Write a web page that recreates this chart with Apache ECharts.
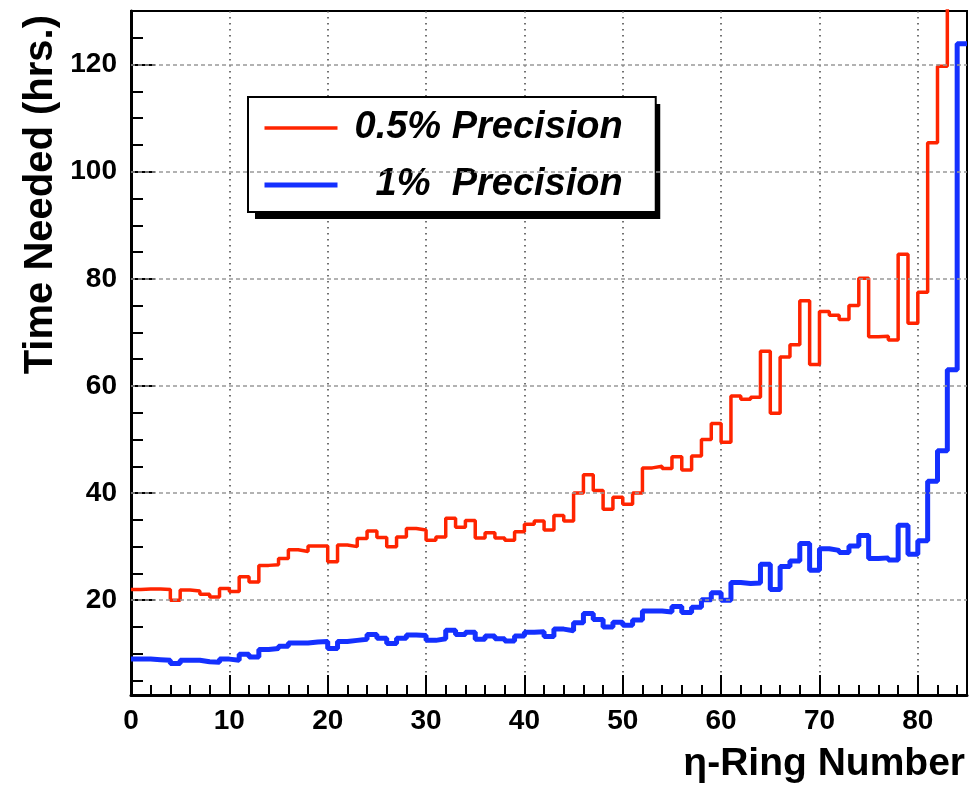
<!DOCTYPE html>
<html><head><meta charset="utf-8">
<script src="https://cdn.jsdelivr.net/npm/echarts@6/dist/echarts.min.js"></script>
<style>html,body{margin:0;padding:0;background:#fff}#c{width:969px;height:792px}</style>
</head><body><div id="c"></div>
<script>
// ---- data (one value per unit-wide eta-ring bin, bins 0..84) ----
const redName = '0.5% Precision';
const blueName = '  1%  Precision';
const redValues = [
  22.0, 22.1, 22.1, 22.0, 20.0, 21.9, 21.7, 21.1, 20.6, 22.2,
  21.6, 24.4, 23.4, 26.5, 26.6, 27.8, 29.4, 29.1, 30.1, 30.1,
  27.2, 30.3, 30.0, 31.5, 32.9, 31.7, 30.0, 31.8, 33.4, 33.1,
  31.2, 31.8, 35.3, 33.6, 34.9, 31.6, 32.6, 31.6, 31.2, 32.8,
  34.2, 34.8, 33.1, 35.8, 34.8, 40.0, 43.4, 40.5, 37.0, 39.2,
  37.9, 40.0, 44.7, 45.0, 44.6, 46.8, 44.3, 46.9, 50.0, 53.0,
  49.5, 58.1, 57.5, 57.9, 66.5, 54.9, 65.4, 67.7, 75.9, 64.0,
  73.9, 73.2, 72.4, 75.0, 80.1, 69.2, 69.3, 68.6, 84.6, 71.7,
  77.5, 105.4, 119.7, 150.0, 180.0
];
const blueValues = [
  9.0, 9.0, 8.9, 8.8, 8.2, 8.8, 8.8, 8.5, 8.4, 9.0,
  8.8, 9.9, 9.4, 10.8, 11.0, 11.4, 12.0, 12.0, 12.2, 12.3,
  11.0, 12.3, 12.5, 12.7, 13.6, 12.9, 11.9, 12.9, 13.5, 13.4,
  12.5, 12.8, 14.4, 13.6, 14.0, 12.7, 13.3, 12.8, 12.4, 13.3,
  14.0, 14.1, 13.2, 14.6, 14.3, 15.8, 17.5, 16.4, 15.0, 15.9,
  15.3, 16.3, 18.0, 18.0, 17.8, 18.8, 17.7, 18.7, 20.1, 21.4,
  20.0, 23.3, 23.1, 23.2, 26.7, 22.0, 26.3, 27.3, 30.6, 25.6,
  29.6, 29.3, 28.9, 30.1, 32.1, 27.8, 27.9, 27.5, 34.0, 28.6,
  31.1, 42.2, 47.9, 63.0, 123.9
];
const xMajorTicks = [0, 10, 20, 30, 40, 50, 60, 70, 80];
const xMinorTicks = [2, 4, 6, 8, 12, 14, 16, 18, 22, 24, 26, 28, 32, 34, 36, 38, 42, 44, 46, 48,
  52, 54, 56, 58, 62, 64, 66, 68, 72, 74, 76, 78, 82, 84];
const yMajorTicks = [20, 40, 60, 80, 100, 120];
const yMinorTicks = [5, 10, 15, 25, 30, 35, 45, 50, 55, 65, 70, 75, 85, 90, 95, 105, 110, 115, 125];
const xRange = [0, 85];
const yRange = [2.3, 130];
const xTitle = 'η-Ring Number';
const yTitle = 'Time Needed (hrs.)';

// ---- build histogram step points (bin i spans [i, i+1]) ----
function histPoints(vals) {
  const pts = vals.map((v, i) => [i, v]);
  pts.push([vals.length, vals[vals.length - 1]]);
  return pts;
}

const FONT = 'Liberation Sans, Arial, Helvetica, sans-serif';
const labelStyle = { color: '#000', fontFamily: FONT, fontWeight: 'bold', fontSize: 28 };
const RED = '#ff2400', BLUE = '#1430ff';
const RED_W = 3.5, BLUE_W = 5;

const legendCommon = {
  orient: 'vertical',
  padding: [10, 33, 6, 14],
  itemWidth: 73, itemHeight: 14, itemGap: 15,
  selectedMode: false,
  textStyle: { fontFamily: FONT, fontWeight: 'bold', fontStyle: 'italic',
    fontSize: 38, lineHeight: 42, padding: [0, 0, 0, 12] }
};

const chart = echarts.init(document.getElementById('c'), null, { renderer: 'canvas' });
chart.setOption({
  backgroundColor: '#fff',
  animation: false,
  grid: {
    left: 131, right: 2, top: 11, bottom: 97,
    show: true, borderColor: '#000', borderWidth: 2, backgroundColor: 'transparent',
    containLabel: false, outerBoundsMode: 'none'
  },
  xAxis: [{
    type: 'value', min: xRange[0], max: xRange[1], interval: 10,
    position: 'bottom', offset: 0,
    axisLine: { show: true, onZero: false, lineStyle: { color: '#000', width: 3 } },
    axisTick: { show: true, inside: true, length: 20, lineStyle: { color: '#000', width: 2 }, customValues: xMajorTicks },
    axisLabel: { show: true, margin: 12, customValues: xMajorTicks, ...labelStyle },
    splitLine: { show: true, lineStyle: { color: '#444', width: 1.5, type: [1.5, 4.5] } },
    name: xTitle, nameLocation: 'end', nameGap: -2, nameMoveOverlap: false,
    nameTextStyle: { color: '#000', fontFamily: FONT, fontWeight: 'bold', fontSize: 39,
      align: 'right', verticalAlign: 'top', padding: [50, 0, 0, 0] }
  }, {
    type: 'value', min: xRange[0], max: xRange[1], interval: 10,
    position: 'bottom', offset: 0,
    axisLine: { show: false },
    axisTick: { show: true, inside: true, length: 10, lineStyle: { color: '#000', width: 2 }, customValues: xMinorTicks },
    axisLabel: { show: false },
    splitLine: { show: false }
  }],
  yAxis: [{
    type: 'value', min: yRange[0], max: yRange[1],
    position: 'left', offset: 0,
    axisLine: { show: true, onZero: false, lineStyle: { color: '#000', width: 3 } },
    axisTick: { show: true, inside: true, length: 24, lineStyle: { color: '#000', width: 2 }, customValues: yMajorTicks },
    axisLabel: { show: true, margin: 14, customValues: yMajorTicks, ...labelStyle },
    splitLine: { show: false },
    name: yTitle, nameLocation: 'end', nameRotate: 90, nameGap: -4, nameMoveOverlap: false,
    nameTextStyle: { color: '#000', fontFamily: FONT, fontWeight: 'bold', fontSize: 40,
      align: 'right', verticalAlign: 'bottom', padding: [0, 0, 70, 0] }
  }, {
    type: 'value', min: yRange[0], max: yRange[1],
    position: 'left', offset: 0,
    axisLine: { show: false },
    axisTick: { show: true, inside: true, length: 12, lineStyle: { color: '#000', width: 2 }, customValues: yMinorTicks },
    axisLabel: { show: false },
    splitLine: { show: false }
  }],
  legend: [
    Object.assign({}, legendCommon, {
      // drop shadow of the legend box
      left: 255, top: 104, z: 3, icon: 'none',
      data: [redName, blueName],
      backgroundColor: '#000', borderWidth: 0,
      textStyle: Object.assign({}, legendCommon.textStyle, { color: 'rgba(0,0,0,0)' }),
      lineStyle: { opacity: 0 }
    }),
    Object.assign({}, legendCommon, {
      left: 248, top: 97, z: 4, icon: 'inherit',
      data: [
        { name: redName, lineStyle: { width: RED_W, color: RED } },
        { name: blueName, lineStyle: { width: BLUE_W, color: BLUE } }
      ],
      itemStyle: { opacity: 0 },
      backgroundColor: '#fff', borderColor: '#000', borderWidth: 2, borderRadius: 0,
      textStyle: Object.assign({}, legendCommon.textStyle, { color: '#000' })
    })
  ],
  series: [
    {
      name: 'grid', type: 'line', data: [], z: 1, silent: true,
      markLine: {
        silent: true, symbol: 'none', label: { show: false }, animation: false,
        lineStyle: { color: '#999', width: 1.5, type: [4, 3] },
        data: yMajorTicks.map(v => ({ yAxis: v }))
      }
    },
    {
      name: redName, type: 'line', step: 'end', symbol: 'none', clip: true, z: 3,
      data: histPoints(redValues),
      lineStyle: { color: RED, width: RED_W }, itemStyle: { color: RED }
    },
    {
      name: blueName, type: 'line', step: 'end', symbol: 'none', clip: true, z: 4,
      data: histPoints(blueValues),
      lineStyle: { color: BLUE, width: BLUE_W }, itemStyle: { color: BLUE }
    }
  ]
});
</script></body></html>
